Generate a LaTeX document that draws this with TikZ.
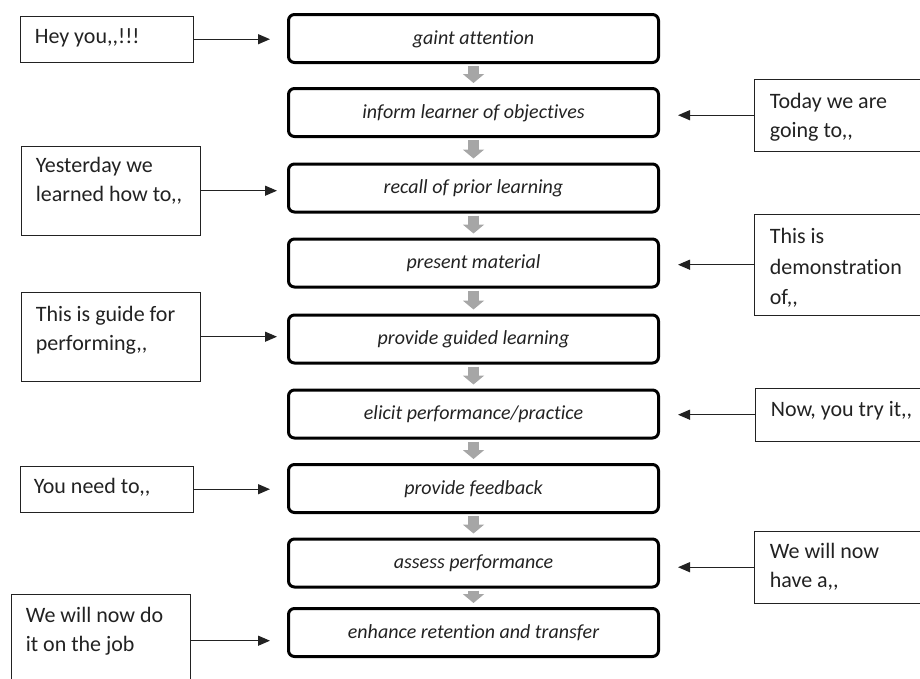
\documentclass[tikz,border=0pt]{standalone}
\usepackage{fontspec}
\setmainfont{Carlito}[Ligatures={TeXOff,NoCommon}]
\usetikzlibrary{arrows.meta}
\definecolor{flowgray}{HTML}{A6A6A6}
\definecolor{ink}{HTML}{222222}
\begin{document}
\begin{tikzpicture}[x=1pt,y=-1pt,
  stage/.style={draw=black, line width=3pt, rounded corners=6pt, minimum width=370pt, minimum height=48pt, inner sep=0pt, text height=12pt, text depth=1pt, font=\fontsize{20}{23}\selectfont\itshape, text=ink},
  note/.style={draw=ink, line width=1.2pt, inner sep=0pt, anchor=north west},
  notetext/.style={anchor=base west, inner sep=0pt, font=\fontsize{22}{29}\selectfont, text=ink},
  conn/.style={draw=ink, line width=1.2pt, -{Triangle[length=12pt,width=10pt]}},
  flow/.style={draw=flowgray, line width=11pt, -{Triangle[length=9pt,width=21pt]}}]
\useasboundingbox (0,0) rectangle (920,678);
\clip (0,0) rectangle (920,678);
% central stages
\node[stage] (c1) at (473.5,38.5) {gaint attention};
\node[stage] (c2) at (473.5,112.5) {inform learner of objectives};
\node[stage] (c3) at (473.5,188) {recall of prior learning};
\node[stage] (c4) at (473.5,263) {present material};
\node[stage] (c5) at (473.5,339) {provide guided learning};
\node[stage] (c6) at (473.5,414) {elicit performance/practice};
\node[stage] (c7) at (473.5,488.5) {provide feedback};
\node[stage] (c8) at (473.5,563) {assess performance};
\node[stage] (c9) at (473.5,632.5) {enhance retention and transfer};
\foreach \a/\b in {c1/c2,c2/c3,c3/c4,c4/c5,c5/c6,c6/c7,c7/c8,c8/c9}
  \draw[flow] ([yshift=-2pt]\a.south) -- ([yshift=4pt]\b.north);
% left notes
\node[note, minimum width=173pt, minimum height=46pt] (lb1) at (19.6,15.6) {};
\node[note, minimum width=179pt, minimum height=89pt] (lb2) at (20.6,145.6) {};
\node[note, minimum width=179pt, minimum height=89pt] (lb3) at (20.6,291.6) {};
\node[note, minimum width=173pt, minimum height=46pt] (lb4) at (19.6,465.6) {};
\node[note, minimum width=179pt, minimum height=93pt] (lb5) at (10.6,593.6) {};
% right notes
\node[note, minimum width=180pt, minimum height=72pt] (rb1) at (753.6,78.6) {};
\node[note, minimum width=180pt, minimum height=101pt] (rb2) at (753.6,213.6) {};
\node[note, minimum width=180pt, minimum height=53pt] (rb3) at (754.6,387.6) {};
\node[note, minimum width=180pt, minimum height=72pt] (rb4) at (753.6,530.6) {};
% note texts
\node[notetext] (lt1) at ([shift={(15pt,-28pt)}]lb1.north west) {\parbox[t]{170pt}{\raggedright Hey you,,!!!}};
\node[notetext] (lt2) at ([shift={(15pt,-27pt)}]lb2.north west) {\parbox[t]{170pt}{\raggedright Yesterday we\\learned how to,,}};
\node[notetext] (lt3) at ([shift={(15pt,-30pt)}]lb3.north west) {\parbox[t]{170pt}{\raggedright This is guide for\\performing,,}};
\node[notetext] (lt4) at ([shift={(14pt,-28pt)}]lb4.north west) {\parbox[t]{170pt}{\raggedright You need to,,}};
\node[notetext] (lt5) at ([shift={(15pt,-29pt)}]lb5.north west) {\parbox[t]{170pt}{\raggedright We will now do\\it on the job}};
\node[notetext] (rt1) at ([shift={(16pt,-30pt)}]rb1.north west) {\parbox[t]{170pt}{\raggedright Today we are\\going to,,}};
\node[notetext] (rt2) at ([shift={(16pt,-30pt)}]rb2.north west) {\parbox[t]{170pt}{\raggedright\baselineskip=30.5pt This is\\demonstration\\of,,}};
\node[notetext] (rt3) at ([shift={(16pt,-29pt)}]rb3.north west) {\parbox[t]{170pt}{\raggedright Now, you try it,,}};
\node[notetext] (rt4) at ([shift={(16pt,-28pt)}]rb4.north west) {\parbox[t]{170pt}{\raggedright We will now\\have a,,}};
% connectors
\draw[conn] (lb1.east) -- ([xshift=-17pt]lb1.east -| c1.west);
\draw[conn] (lb2.east) -- ([xshift=-10pt]lb2.east -| c3.west);
\draw[conn] (lb3.east) -- ([xshift=-10pt]lb3.east -| c5.west);
\draw[conn] (lb4.east) -- ([xshift=-17pt]lb4.east -| c7.west);
\draw[conn] (lb5.east) -- ([xshift=-17pt]lb5.east -| c9.west);
\draw[conn] (rb1.west) -- ([xshift=18pt]rb1.west -| c2.east);
\draw[conn] (rb2.west) -- ([xshift=18pt]rb2.west -| c4.east);
\draw[conn] (rb3.west) -- ([xshift=18pt]rb3.west -| c6.east);
\draw[conn] (rb4.west) -- ([xshift=18pt]rb4.west -| c8.east);
\end{tikzpicture}
\end{document}
